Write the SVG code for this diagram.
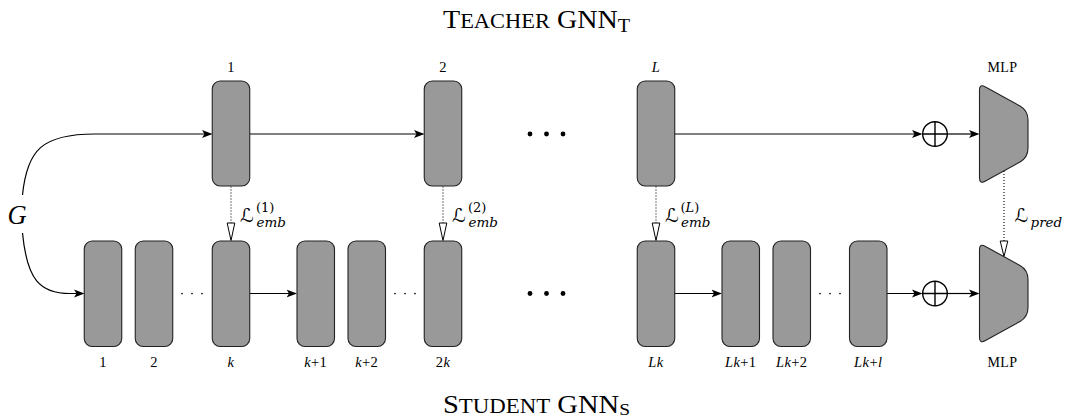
<svg xmlns="http://www.w3.org/2000/svg" width="1066" height="418" viewBox="0 0 1066 418">
<defs>
<style>
.box{fill:#999;stroke:#222;stroke-width:1.1}
.mlp{fill:#999;stroke:#222;stroke-width:1.1}
.arr{stroke:#000;stroke-width:1.2;fill:none;marker-end:url(#ah)}
.dotl{stroke:#000;stroke-width:1.1;stroke-dasharray:1 2;fill:none}
.tri{fill:#fff;stroke:#000;stroke-width:1}
.op{fill:none;stroke:#000;stroke-width:1.4}
.t{font-family:"Liberation Serif",serif;fill:#000}
.n{font-family:"Liberation Serif",serif;font-size:14.5px;text-anchor:middle;fill:#000;letter-spacing:0.4px}
.i{font-style:italic}
.m{font-family:"DejaVu Serif","DejaVu Sans",serif;fill:#000}
.L{font-family:"DejaVu Sans","DejaVu Serif",serif;font-size:19px;fill:#000}
.bd{fill:#000}
</style>
<marker id="ah" markerWidth="12" markerHeight="10" refX="8.5" refY="4.5" orient="auto" markerUnits="userSpaceOnUse">
<path d="M0,0.5 L10.5,4.5 L0,8.5 L2.5,4.5 Z" fill="#000"/>
</marker>
</defs>
<rect width="1066" height="418" fill="#fff"/>

<text class="t" x="443" y="28.3" font-size="25" textLength="187" lengthAdjust="spacingAndGlyphs">T<tspan font-size="20">EACHER</tspan> GNN<tspan font-size="18" dy="4">T</tspan></text>
<text class="t" x="443" y="412.5" font-size="25" textLength="187" lengthAdjust="spacingAndGlyphs">S<tspan font-size="20">TUDENT</tspan> GNN<tspan font-size="17" dy="2.5">S</tspan></text>

<text class="t i" x="7.5" y="223.5" font-size="26.5">G</text>

<g id="connectors">
<path class="arr" d="M22.5,195 C27,150 42,134 95,134 L210.5,134"/>
<path class="arr" d="M249.75,134 L422.5,134"/>
<path class="arr" d="M674.75,134 L920.5,134"/>
<path class="arr" d="M947.5,134 L977.5,134"/>
<path class="arr" d="M22.5,233 C27,280 40,293.5 70,293.5 L82.5,293.5"/>
<path class="arr" d="M249.75,293.5 L295,293.5"/>
<path class="arr" d="M674.75,293.5 L720,293.5"/>
<path class="arr" d="M887,293.5 L920.5,293.5"/>
<path class="arr" d="M947.5,293.5 L977.5,293.5"/>
<path class="dotl" d="M231,186.5 V223 M443,186.5 V223 M656,186.5 V223 M1004,171 V241"/>
<polygon class="tri" points="227.2,223 234.8,223 231,240.5"/>
<polygon class="tri" points="439.2,223 446.8,223 443,240.5"/>
<polygon class="tri" points="652.2,223 659.8,223 656,240.5"/>
<polygon class="tri" points="1000.2,241 1007.8,241 1004,256.5"/>
</g>

<g id="loss-labels">
<text class="L" x="240" y="222">ℒ</text>
<text class="m" x="256" y="211.6" font-size="13">(1)</text>
<text class="m i" x="256.5" y="226.5" font-size="13.5">emb</text>
<text class="L" x="452" y="222">ℒ</text>
<text class="m" x="468" y="211.6" font-size="13">(2)</text>
<text class="m i" x="468.5" y="226.5" font-size="13.5">emb</text>
<text class="L" x="665" y="222">ℒ</text>
<text class="m" x="680.5" y="211.6" font-size="13">(<tspan class="i">L</tspan>)</text>
<text class="m i" x="681" y="226.5" font-size="13.5">emb</text>
<text class="L" x="1014.5" y="222">ℒ</text>
<text class="m i" x="1030.5" y="226.5" font-size="13.5">pred</text>
</g>

<g id="teacher-1"><rect class="box" x="212.25" y="81" width="37.5" height="105" rx="8"/><text class="n" x="231" y="71.7" font-size="13">1</text></g>
<g id="teacher-2"><rect class="box" x="424.25" y="81" width="37.5" height="105" rx="8"/><text class="n" x="443" y="71.7" font-size="13">2</text></g>
<g id="teacher-L"><rect class="box" x="637.25" y="81" width="37.5" height="105" rx="8"/><text class="n i" x="656" y="71.7" font-size="13">L</text></g>
<g id="teacher-dots"><circle class="bd" cx="530" cy="134" r="2.4"/><circle class="bd" cx="546.5" cy="134" r="2.4"/><circle class="bd" cx="563" cy="134" r="2.4"/></g>
<g id="teacher-oplus"><circle class="op" cx="935" cy="134" r="12.3"/><path class="op" d="M922.7,134 H947.3 M935,121.7 V146.3"/></g>
<g id="teacher-mlp"><path class="mlp" d="M979.5,90 Q979.5,83.5 985.5,87 L1020,106 Q1028,110.5 1028,120 L1028,148 Q1028,157.5 1020,162 L985.5,181 Q979.5,184.5 979.5,178 Z"/><text class="n" x="1002.5" y="71.7" font-size="13.5" textLength="30" lengthAdjust="spacingAndGlyphs">MLP</text></g>

<g id="student-1"><rect class="box" x="84.25" y="241" width="37.5" height="105.5" rx="8"/><text class="n" x="103" y="366.5">1</text></g>
<g id="student-2"><rect class="box" x="135.25" y="241" width="37.5" height="105.5" rx="8"/><text class="n" x="154" y="366.5">2</text></g>
<g id="student-k"><rect class="box" x="212.25" y="241" width="37.5" height="105.5" rx="8"/><text class="n i" x="231" y="366.5">k</text></g>
<g id="student-k1"><rect class="box" x="297" y="241" width="37.5" height="105.5" rx="8"/><text class="n" x="315.75" y="366.5"><tspan class="i">k</tspan>+1</text></g>
<g id="student-k2"><rect class="box" x="348" y="241" width="37.5" height="105.5" rx="8"/><text class="n" x="366.75" y="366.5"><tspan class="i">k</tspan>+2</text></g>
<g id="student-2k"><rect class="box" x="424.25" y="241" width="37.5" height="105.5" rx="8"/><text class="n" x="443" y="366.5">2<tspan class="i">k</tspan></text></g>
<g id="student-Lk"><rect class="box" x="637.25" y="241" width="37.5" height="105.5" rx="8"/><text class="n i" x="656" y="366.5">Lk</text></g>
<g id="student-Lk1"><rect class="box" x="722" y="241" width="37.5" height="105.5" rx="8"/><text class="n" x="740.75" y="366.5"><tspan class="i">Lk</tspan>+1</text></g>
<g id="student-Lk2"><rect class="box" x="773" y="241" width="37.5" height="105.5" rx="8"/><text class="n" x="791.75" y="366.5"><tspan class="i">Lk</tspan>+2</text></g>
<g id="student-Lkl"><rect class="box" x="849.5" y="241" width="37.5" height="105.5" rx="8"/><text class="n" x="868.25" y="366.5"><tspan class="i">Lk</tspan>+<tspan class="i">l</tspan></text></g>
<g id="student-smalldots">
<circle class="bd" cx="182" cy="293.5" r="0.85"/><circle class="bd" cx="192" cy="293.5" r="0.85"/><circle class="bd" cx="202" cy="293.5" r="0.85"/>
<circle class="bd" cx="395" cy="293.5" r="0.85"/><circle class="bd" cx="405" cy="293.5" r="0.85"/><circle class="bd" cx="415" cy="293.5" r="0.85"/>
<circle class="bd" cx="820" cy="293.5" r="0.85"/><circle class="bd" cx="830" cy="293.5" r="0.85"/><circle class="bd" cx="840" cy="293.5" r="0.85"/>
</g>
<g id="student-dots"><circle class="bd" cx="530" cy="293.5" r="2.4"/><circle class="bd" cx="546.5" cy="293.5" r="2.4"/><circle class="bd" cx="563" cy="293.5" r="2.4"/></g>
<g id="student-oplus"><circle class="op" cx="935" cy="293.5" r="12.3"/><path class="op" d="M922.7,293.5 H947.3 M935,281.2 V305.8"/></g>
<g id="student-mlp"><path class="mlp" d="M979.5,249.5 Q979.5,243 985.5,246.5 L1020,265.5 Q1028,270 1028,279.5 L1028,307.5 Q1028,317 1020,321.5 L985.5,340.5 Q979.5,344 979.5,337.5 Z"/><text class="n" x="1002.5" y="366.5" font-size="13.5" textLength="30" lengthAdjust="spacingAndGlyphs">MLP</text></g>
</svg>
